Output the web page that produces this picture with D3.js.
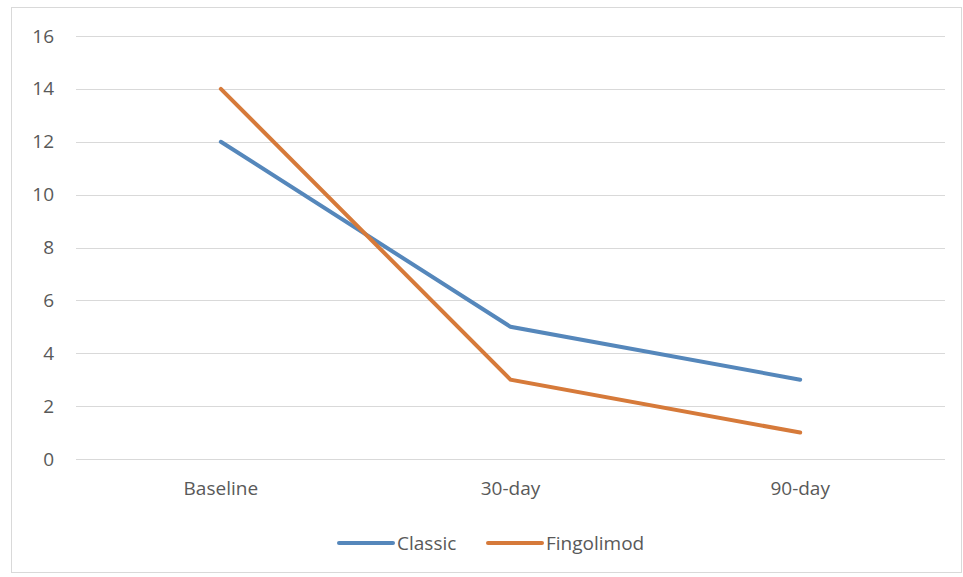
<!DOCTYPE html>
<html><head><meta charset="utf-8">
<script src="https://cdn.jsdelivr.net/npm/d3@7"></script>
<style>body{margin:0;background:#fff}svg{display:block}</style>
</head><body>
<svg id="c" width="963" height="577"></svg>
<script>
const categories = ["Baseline", "30-day", "90-day"];
const classic = [12, 5, 3];
const fingolimod = [14, 3, 1];
const yTicks = [0, 2, 4, 6, 8, 10, 12, 14, 16];
const seriesNames = ["Classic", "Fingolimod"];
const colors = ["#5587bb", "#d67a3a"];

const svg = d3.select("#c");
const font = "'Open Sans', 'Liberation Sans', sans-serif";
const fs = 19;
svg.append("rect").attr("x", 11.5).attr("y", 7.5).attr("width", 950).attr("height", 565)
  .attr("fill", "#fff").attr("stroke", "#d9d9d9");

const x = d3.scaleBand().domain(categories).range([76, 945]);
const y = d3.scaleLinear().domain([0, 16]).range([459, 36]);

svg.append("g").selectAll("line").data(yTicks).enter().append("line")
  .attr("x1", 76).attr("x2", 945)
  .attr("y1", d => Math.round(y(d)) + 0.5).attr("y2", d => Math.round(y(d)) + 0.5)
  .attr("stroke", "#d9d9d9").attr("stroke-width", 1);

const yAxis = svg.append("g").attr("transform", "translate(54,0)")
  .call(d3.axisLeft(y).tickValues(yTicks).tickSize(0).tickPadding(0));
yAxis.select(".domain").remove();
yAxis.selectAll("text").attr("font-family", font).attr("font-size", fs).attr("fill", "#595959");

const xAxis = svg.append("g").attr("transform", "translate(0,481)")
  .call(d3.axisBottom(x).tickSize(0).tickPadding(0));
xAxis.select(".domain").remove();
xAxis.selectAll("text").attr("font-family", font).attr("font-size", fs).attr("fill", "#595959");

const line = d3.line().x((d, i) => x(categories[i]) + x.bandwidth() / 2).y(d => y(d));
[classic, fingolimod].forEach((s, i) => {
  svg.append("path").datum(s).attr("d", line).attr("fill", "none")
    .attr("stroke", colors[i]).attr("stroke-width", 4).attr("stroke-linecap", "round");
});

const legend = [{x: 339, name: seriesNames[0], c: colors[0]}, {x: 488, name: seriesNames[1], c: colors[1]}];
legend.forEach(l => {
  svg.append("line").attr("x1", l.x).attr("x2", l.x + 54).attr("y1", 543).attr("y2", 543)
    .attr("stroke", l.c).attr("stroke-width", 4).attr("stroke-linecap", "round");
  svg.append("text").attr("x", l.x + 58).attr("y", 550).text(l.name)
    .attr("font-family", font).attr("font-size", fs).attr("fill", "#595959");
});
</script>
</body></html>
